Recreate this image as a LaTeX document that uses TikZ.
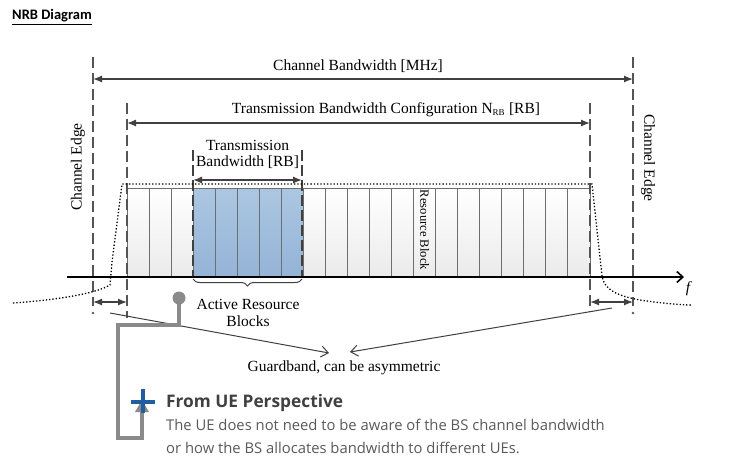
\documentclass[tikz,border=0pt]{standalone}
\usepackage{fontspec}
\setmainfont{Liberation Serif}
\newfontfamily\calibrifont{Carlito}
\newfontfamily\uefont{Open Sans}
\usetikzlibrary{arrows.meta,decorations.pathreplacing,calc}
\definecolor{dashgray}{HTML}{555555}
\definecolor{arrgray}{HTML}{404040}
\definecolor{blkline}{HTML}{6E6E6E}
\definecolor{conngray}{HTML}{8A8A8A}
\definecolor{plusblue}{HTML}{1F5F9F}
\definecolor{bluetop}{HTML}{ABC7E2}
\definecolor{bluebot}{HTML}{94B3D6}
\definecolor{txtgray}{HTML}{595959}
\definecolor{headgray}{HTML}{404040}
\begin{document}
\begin{tikzpicture}[x=1pt,y=-1pt,
  edgeline/.style={draw=dashgray,line width=2.6pt,dash pattern=on 11pt off 5pt},
  thinedge/.style={draw=arrgray,line width=1.6pt,dash pattern=on 11pt off 4pt},
  dimarrow/.style={draw=arrgray,line width=1.3pt,{Latex[length=9pt,width=7pt]}-{Latex[length=9pt,width=7pt]}},
  lbl/.style={font=\fontsize{15.5}{17}\selectfont,inner sep=0pt,align=center},
  blk/.style={draw=blkline,line width=1pt,top color=white,bottom color=black!8},
  ablk/.style={draw=blkline,line width=1pt,top color=bluetop,bottom color=bluebot},
  mask/.style={draw=black,line width=1.3pt,dotted},
  guard/.style={draw=arrgray,line width=1pt,-{Straight Barb[length=7pt,width=11pt]}},
  conn/.style={draw=conngray,line width=4pt},
]
\useasboundingbox (0,0) rectangle (735,475);

% title
\node[font=\calibrifont\bfseries\fontsize{14.5}{16}\selectfont,anchor=west,inner sep=0pt] (title) at (12,17) {\underline{NRB Diagram}};

% key coordinates
\coordinate (oL) at (93,79);
\coordinate (oR) at (633,79);
\coordinate (iL) at (127,123);
\coordinate (iR) at (590,123);

% resource blocks
\foreach \i in {0,...,20}{
  \pgfmathsetmacro{\xa}{127+\i*463/21}
  \pgfmathsetmacro{\xb}{127+(\i+1)*463/21}
  \ifnum\i>2 \ifnum\i<8
    \path[ablk] (\xa,188) rectangle (\xb,277);
  \else
    \path[blk] (\xa,188) rectangle (\xb,277);
  \fi\else
    \path[blk] (\xa,188) rectangle (\xb,277);
  \fi
}
\node[lbl,font=\fontsize{12.6}{14}\selectfont,rotate=-90] (rb) at (424.6,230) {Resource Block};

% channel edges (dashed)
\path[edgeline] (93,57) -- (93,306);
\path[edgeline] (633,57) -- (633,306);
\fill[dashgray] (93,313) circle (1.3pt);
\fill[dashgray] (633,313) circle (1.3pt);
\path[edgeline] (127,103) -- (127,318);
\path[edgeline] (590,103) -- (590,312);
\path[thinedge] (193,150) -- (193,277);
\path[thinedge] (302,150) -- (302,277);

% spectrum mask
\path[mask] (13,303) .. controls (55,300) and (95,294) .. (110,285) -- (112,262) -- (122,184) -- (592,184) -- (602,276)
  .. controls (604,290) and (618,296) .. (640,300) .. controls (660,303) and (680,305) .. (692,305);

% frequency axis
\coordinate (ax0) at (67,277);
\coordinate (ax1) at (684,277);
\draw[line width=1.6pt,-{Straight Barb[length=6pt,width=11pt,line width=1.6pt]}] (ax0) -- (ax1);
\node[lbl,font=\itshape\fontsize{15.5}{17}\selectfont] (f) at (688,289) {f};

% channel bandwidth
\path[dimarrow] (oL) -- (oR);
\node[lbl] (cbw) at (358,66) {Channel Bandwidth [MHz]};
\path[dimarrow] (iL) -- (iR);
\node[lbl] (tbc) at (386,110) {Transmission Bandwidth Configuration N\textsubscript{\fontsize{9}{10}\selectfont RB} [RB]};

% channel edge labels
\node[lbl,rotate=90] (ceL) at (78,167) {Channel Edge};
\node[lbl,rotate=-90] (ceR) at (648,158) {Channel Edge};

% transmission bandwidth
\node[lbl] (tb1) at (247.5,145) {Transmission};
\node[lbl] (tb2) at (247.5,162) {Bandwidth [RB]};
\coordinate (tbL) at (193,180);
\coordinate (tbR) at (302,180);
\path[dimarrow] (tbL) -- (tbR);

% brace
\draw[arrgray,line width=1pt,decorate,decoration={brace,mirror,amplitude=7pt}] (193,279) -- (302,279);
\node[lbl] (arb1) at (248,304) {Active Resource};
\node[lbl] (arb2) at (248,321) {Blocks};

% guard arrows
\coordinate (gL1) at (93,302); \coordinate (gL2) at (127,302);
\coordinate (gR1) at (590,302); \coordinate (gR2) at (633,302);
\path[dimarrow] (gL1) -- (gL2);
\path[dimarrow] (gR1) -- (gR2);

% guardband labels
\node[lbl] (gb) at (344,368) {Guardband, can be asymmetric};
\coordinate (gs1) at (110,313);
\coordinate (gs2) at (612,308);
\coordinate (ge1) at (329,353);
\coordinate (ge2) at (350,352);
\path[guard] (gs1) -- (ge1);
\path[guard] (gs2) -- (ge2);

% UE connector
\fill[conngray] (179,298) circle (6.5pt);
\coordinate (c0) at (179,298);
\coordinate (c1) at (179,325);
\coordinate (c2) at (118,325);
\coordinate (c3) at (118,438);
\coordinate (c4) at (142,438);
\coordinate (c5) at (142,405);
\path[conn,line join=miter] (c0) -- (c1) -- (c2) -- (c3) -- (c4) -- (c5);
\fill[conngray] (135,412) -- (149,412) -- (142,400) -- cycle;
\draw[plusblue,line width=4pt] (131,402) -- (155,402);
\draw[plusblue,line width=4pt] (143,389) -- (143,413);

% UE text
\node[font=\uefont\bfseries\fontsize{17.3}{20}\selectfont,text=headgray,anchor=west,inner sep=0pt] (uehead) at (166,403) {From UE Perspective};
\node[font=\uefont\fontsize{14.8}{23}\selectfont,text=txtgray,anchor=north west,inner sep=0pt,align=left] (uebody) at (166,419) {The UE does not need to be aware of the BS channel bandwidth\\or how the BS allocates bandwidth to different UEs.};
\end{tikzpicture}
\end{document}
